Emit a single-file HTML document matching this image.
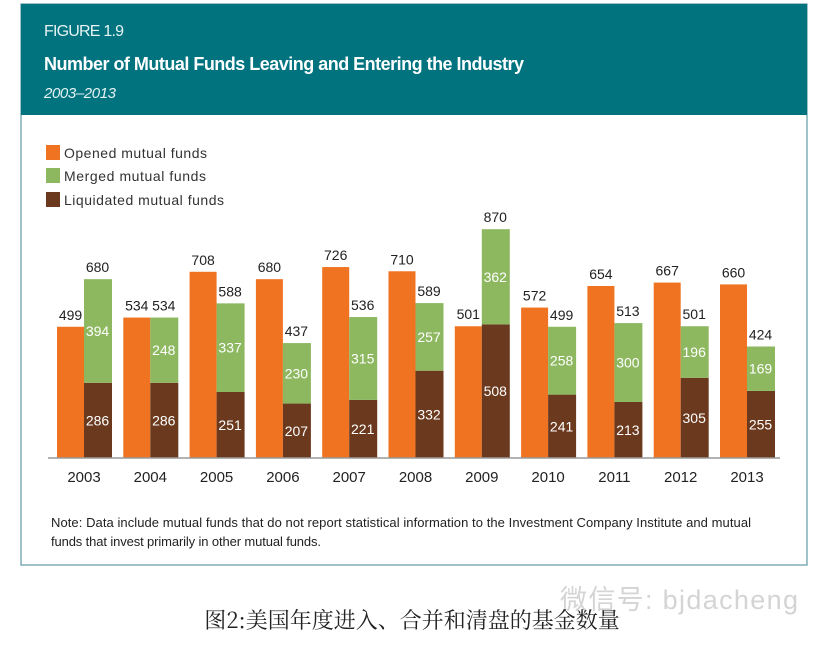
<!DOCTYPE html>
<html><head><meta charset="utf-8"><style>
body{margin:0;width:824px;height:642px;background:#fff;overflow:hidden;font-family:"Liberation Sans Narrow","Liberation Sans","Noto Sans CJK SC",sans-serif;}
</style></head><body>
<svg width="824" height="642" xmlns="http://www.w3.org/2000/svg">
<rect x="21" y="4" width="786" height="561" fill="#fff" stroke="#5e9aa3" stroke-width="1.2"/>
<rect x="21" y="4" width="786" height="111" fill="#00737f"/>
<text x="44" y="36" fill="#e6f2f3" font-size="16" textLength="80">FIGURE 1.9</text>
<text x="44" y="70" fill="#fff" font-size="18" font-weight="bold" textLength="480">Number of Mutual Funds Leaving and Entering the Industry</text>
<text x="44" y="98" fill="#e6f2f3" font-size="15" font-style="italic" textLength="72">2003–2013</text>
<g>
<rect x="46" y="145" width="14" height="15" fill="#f07322"/>
<text x="64" y="158" font-size="14" fill="#333" textLength="143">Opened mutual funds</text>
<rect x="46" y="168" width="14" height="15" fill="#8db860"/>
<text x="64" y="181" font-size="14" fill="#333" textLength="142">Merged mutual funds</text>
<rect x="46" y="192" width="14" height="15" fill="#6b3a1e"/>
<text x="64" y="205" font-size="14" fill="#333" textLength="160">Liquidated mutual funds</text>
</g>
<g id="bars"></g>
<line x1="48" y1="458" x2="780" y2="458" stroke="#999" stroke-width="1.5"/>
<text x="51" y="527" font-size="13" fill="#222" textLength="700">Note: Data include mutual funds that do not report statistical information to the Investment Company Institute and mutual</text>
<text x="51" y="546" font-size="13" fill="#222" textLength="270">funds that invest primarily in other mutual funds.</text>
<text x="560" y="609" font-size="27" fill="#d4d4d4" textLength="238">微信号: bjdacheng</text>
<text x="412" y="628" font-size="22" fill="#222" text-anchor="middle" font-family="'Noto Serif CJK SC','Liberation Serif',serif">图2:美国年度进入、合并和清盘的基金数量</text>
</svg>
<script>
const years=["2003","2004","2005","2006","2007","2008","2009","2010","2011","2012","2013"];
const opened=[499,534,708,680,726,710,501,572,654,667,660];
const merged=[394,248,337,230,315,257,362,258,300,196,169];
const liquidated=[286,286,251,207,221,332,508,241,213,305,255];
const NS="http://www.w3.org/2000/svg";
const base=458, k=0.263, x0=57, step=66.3, bw=27;
const yS=v=>base-v*k;
const g=document.getElementById('bars');
function mk(tag,attrs){const e=document.createElementNS(NS,tag);for(const a in attrs)e.setAttribute(a,attrs[a]);g.appendChild(e);return e;}
function txt(x,y,s,fill,size){const t=mk('text',{x:x,y:y,'text-anchor':'middle','font-size':size||14,fill:fill});t.textContent=s;return t;}
years.forEach((yr,i)=>{
 const xo=x0+i*step, xs=xo+bw;
 const r1=mk('rect',{x:xo,y:yS(opened[i]),width:bw,height:opened[i]*k,fill:'#f07322'});
 
 
 const t1=txt(xo+bw/2,yS(opened[i])-7,String(opened[i]),'#222');
 
 
 const r2=mk('rect',{x:xs,y:yS(liquidated[i]),width:bw+1,height:liquidated[i]*k,fill:'#6b3a1e'});
 
 
 const tot=liquidated[i]+merged[i];
 const r3=mk('rect',{x:xs,y:yS(tot),width:bw+1,height:merged[i]*k,fill:'#8db860'});
 
 
 const t2=txt(xs+bw/2,yS(tot)-7,String(tot),'#222');
 
 
 const t3=txt(xs+bw/2,yS(liquidated[i]+merged[i]/2)+5,String(merged[i]),'#fff');
 
 
 const t4=txt(xs+bw/2,yS(liquidated[i]/2)+5,String(liquidated[i]),'#fff');
 
 
 const t5=txt(xo+bw,482,yr,'#222',15);
 
 
});
</script>
</body></html>
